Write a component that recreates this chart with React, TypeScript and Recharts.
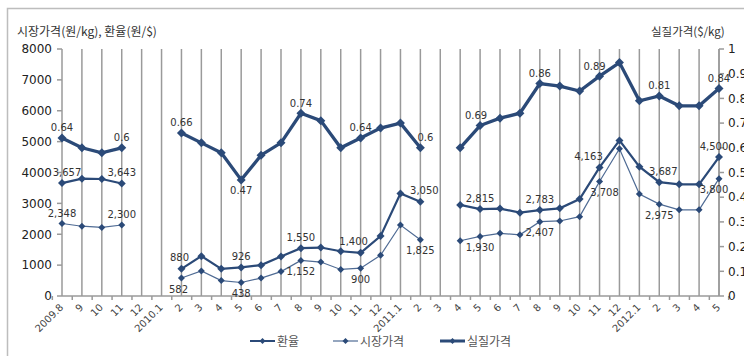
import React from 'react';
import { LineChart, Line, XAxis, YAxis, ReferenceLine, LabelList } from 'recharts';

const months = [
    '2009.8', '9', '10', '11', '12',
    '2010.1', '2', '3', '4', '5', '6', '7', '8', '9', '10', '11', '12',
    '2011.1', '2', '3', '4', '5', '6', '7', '8', '9', '10', '11', '12',
    '2012.1', '2', '3', '4', '5',
];

// 환율 (원/$)
const exchangeRate = [
    3657, 3800, 3790, 3643, null,
    null, 880, 1290, 880, 926, 1000, 1280, 1550, 1570, 1450, 1400, 1940,
    3320, 3050, null, 2950, 2815, 2830, 2700, 2783, 2840, 3140, 4163, 5040,
    4190, 3687, 3617, 3617, 4500,
];

// 시장가격 (원/kg)
const marketPrice = [
    2348, 2260, 2220, 2300, null,
    null, 582, 810, 500, 438, 580, 790, 1152, 1100, 860, 900, 1320,
    2300, 1825, null, 1790, 1930, 2030, 1980, 2407, 2430, 2570, 3708, 4770,
    3300, 2975, 2790, 2790, 3800,
];

// 실질가격 ($/kg)
const realPrice = [
    0.64, 0.6, 0.58, 0.6, null,
    null, 0.66, 0.62, 0.58, 0.47, 0.57, 0.62, 0.74, 0.71, 0.6, 0.64, 0.68,
    0.7, 0.6, null, 0.6, 0.69, 0.72, 0.74, 0.86, 0.85, 0.83, 0.89, 0.945,
    0.79, 0.81, 0.77, 0.77, 0.84,
];

// points that carry a data label
const labelled = [0, 3, 6, 9, 12, 15, 18, 21, 24, 27, 30, 33];

const leftTicks = [0, 1000, 2000, 3000, 4000, 5000, 6000, 7000, 8000];
const rightTicks = [0, 0.1, 0.2, 0.3, 0.4, 0.5, 0.6, 0.7, 0.8, 0.9, 1];

const data = months.map((m, i) => ({
    idx: i,
    month: m,
    exchange: exchangeRate[i],
    market: marketPrice[i],
    real: realPrice[i],
}));

const NAVY = '#2b4a78';
const THIN = '#4f6b94';
const GRID = '#9a9a9a';
const NUM_FONT = '"DejaVu Sans", sans-serif';
const KR_FONT = '"Noto Sans CJK KR", sans-serif';

const PLOT_LEFT = 62;
const PLOT_RIGHT = 719;
const BAND = (PLOT_RIGHT - PLOT_LEFT) / months.length;

// grid lines sit between the months, on a hidden 0..n axis
const boundaries = months.slice(1).map((_, i) => i + 1);

// hand nudges of a few labels, like the dragged labels in the original
const nudge: Record<string, number> = {
    'real-18': 5, 'real-21': -4, 'real-27': -5,
    'exchange-0': 5, 'exchange-6': -2, 'exchange-15': -7, 'exchange-18': 4, 'exchange-27': -11,
    'exchange-30': 4, 'exchange-33': -5,
    'market-6': -3, 'market-27': 5, 'market-33': -5,
};

const fmtNum = (v: number) => v.toLocaleString('en-US');

const makeLabel = (series: string, below: (i: number) => boolean, dyAbove: number, fmt: (v: number) => string) =>
    (props: any) => {
        const { x, y, index, value } = props;
        if (value == null || !labelled.includes(index)) return null;
        const dx = nudge[`${series}-${index}`] || 0;
        const ty = below(index) ? y + 14.5 : y + dyAbove;
        return (
            <text x={x + dx} y={ty} textAnchor="middle" fontSize={10} fontFamily={NUM_FONT} fill="#333">
                {fmt(value)}
            </text>
        );
    };

const Diamond = (r: number, color: string) => (props: any) => {
    const { cx, cy, index } = props;
    if (cx == null || cy == null || props.value == null) return <g key={`d-${index}`} />;
    return (
        <polygon
            key={`d-${index}`}
            points={`${cx},${cy - r} ${cx + r},${cy} ${cx},${cy + r} ${cx - r},${cy}`}
            fill={color}
        />
    );
};

const MonthTick = (props: any) => {
    const { x, y, payload, index } = props;
    const tx = x + 2;
    const ty = y + 12;
    return (
        <g>
            <line x1={x - BAND / 2} x2={x - BAND / 2} y1={y} y2={y + 4} stroke={GRID} strokeWidth={1.5} />
            {index === months.length - 1 && (
                <line x1={x + BAND / 2} x2={x + BAND / 2} y1={y} y2={y + 4} stroke={GRID} strokeWidth={1.5} />
            )}
            <text
                x={tx}
                y={ty}
                transform={`rotate(-45 ${tx} ${ty})`}
                textAnchor="end"
                fontSize={10}
                fontFamily={NUM_FONT}
                fill="#444"
            >
                {months[payload.value]}
            </text>
        </g>
    );
};

const legendItems = [
    { name: '환율', x: 250, w: 2, color: NAVY },
    { name: '시장가격', x: 333, w: 1.2, color: THIN },
    { name: '실질가격', x: 440, w: 3, color: NAVY },
];

export default function App() {
    return (
        <div style={{ position: 'relative', width: 744, height: 356, background: '#fff' }}>
            <style>{'body{margin:0}'}</style>
            <LineChart width={744} height={356} data={data} margin={{ top: 49, right: 0, bottom: 0, left: 0 }}>
                <XAxis
                    dataKey="idx"
                    type="category"
                    interval={0}
                    height={60}
                    tickSize={0}
                    tickMargin={0}
                    tickLine={false}
                    axisLine={{ stroke: GRID, strokeWidth: 1.5 }}
                    tick={<MonthTick />}
                />
                <XAxis xAxisId="grid" type="number" domain={[0, months.length]} hide />
                <YAxis
                    yAxisId="left"
                    width={62}
                    domain={[0, 8000]}
                    ticks={leftTicks}
                    interval={0}
                    tickSize={5}
                    tickMargin={5}
                    axisLine={{ stroke: GRID, strokeWidth: 1.5 }}
                    tickLine={{ stroke: GRID, strokeWidth: 1.5 }}
                    tick={{ fontSize: 12, fontFamily: NUM_FONT, fill: '#222' }}
                />
                <YAxis
                    yAxisId="right"
                    orientation="right"
                    width={25}
                    domain={[0, 1]}
                    ticks={rightTicks}
                    interval={0}
                    tickSize={5}
                    tickMargin={4}
                    axisLine={{ stroke: GRID, strokeWidth: 1.5 }}
                    tickLine={{ stroke: GRID, strokeWidth: 1.5 }}
                    tickFormatter={(v: number) => String(Math.round(v * 10) / 10)}
                    tick={{ fontSize: 12, fontFamily: NUM_FONT, fill: '#222', textAnchor: 'start' }}
                />
                {boundaries.map((b) => (
                    <ReferenceLine
                        key={b}
                        x={b}
                        xAxisId="grid"
                        yAxisId="left"
                        stroke={GRID}
                        strokeWidth={1.5}
                    />
                ))}
                <Line
                    yAxisId="left"
                    dataKey="market"
                    name="시장가격"
                    stroke={THIN}
                    strokeWidth={1.2}
                    dot={Diamond(3.5, NAVY)}
                    activeDot={false}
                    connectNulls={false}
                    isAnimationActive={false}
                >
                    <LabelList
                        dataKey="market"
                        content={makeLabel('market', (i) => i > 3, -7, fmtNum)}
                    />
                </Line>
                <Line
                    yAxisId="left"
                    dataKey="exchange"
                    name="환율"
                    stroke={NAVY}
                    strokeWidth={2.2}
                    dot={Diamond(4, NAVY)}
                    activeDot={false}
                    connectNulls={false}
                    isAnimationActive={false}
                >
                    <LabelList
                        dataKey="exchange"
                        content={makeLabel('exchange', () => false, -7.5, fmtNum)}
                    />
                </Line>
                <Line
                    yAxisId="right"
                    dataKey="real"
                    name="실질가격"
                    stroke={NAVY}
                    strokeWidth={3.3}
                    dot={Diamond(4.5, NAVY)}
                    activeDot={false}
                    connectNulls={false}
                    isAnimationActive={false}
                >
                    <LabelList
                        dataKey="real"
                        content={makeLabel('real', (i) => i === 9, -6.5, (v) => String(v))}
                    />
                </Line>
            </LineChart>

            {/* titles, frame and legend */}
            <svg
                width={744}
                height={356}
                style={{ position: 'absolute', left: 0, top: 0, pointerEvents: 'none' }}
            >
                <rect x={7.5} y={8.5} width={745} height={360} fill="none" stroke="#bdbdbd" strokeWidth={1.5} />
                <text x={17} y={36} fontSize={12} fontFamily={KR_FONT} fill="#333">
                    시장가격(원/kg), 환율(원/$)
                </text>
                <text x={651} y={36} fontSize={11.5} fontFamily={KR_FONT} fill="#333">
                    실질가격($/kg)
                </text>
                {legendItems.map((it) => (
                    <g key={it.name}>
                        <line x1={it.x} x2={it.x + 25} y1={341} y2={341} stroke={it.color} strokeWidth={it.w} />
                        <polygon
                            points={`${it.x + 12.5},${338} ${it.x + 15.5},${341} ${it.x + 12.5},${344} ${it.x + 9.5},${341}`}
                            fill={NAVY}
                        />
                        <text x={it.x + 27} y={345.5} fontSize={12} fontFamily={KR_FONT} fill="#555">
                            {it.name}
                        </text>
                    </g>
                ))}
            </svg>
        </div>
    );
}
